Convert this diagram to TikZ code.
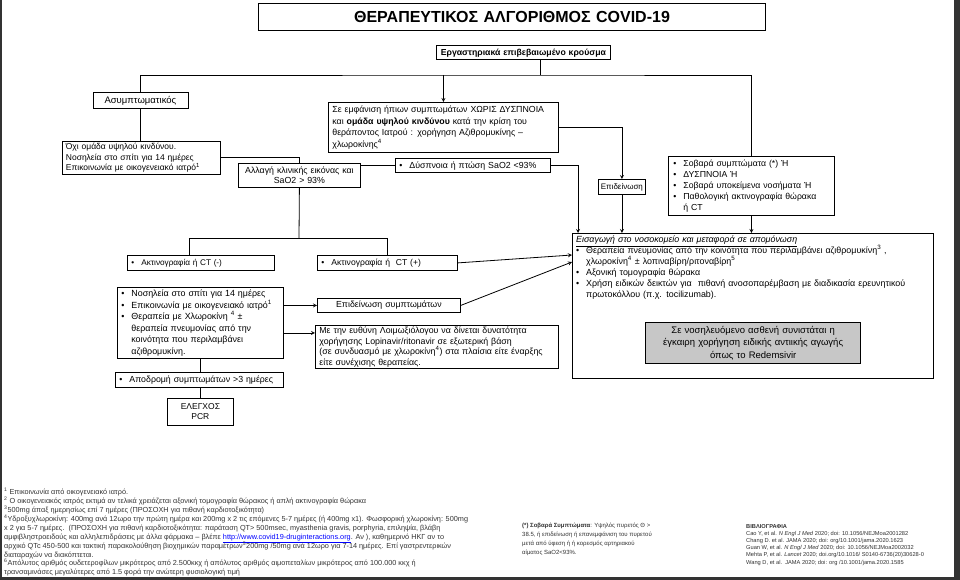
\documentclass[tikz,border=0pt]{standalone}
\usepackage{fontspec}
\setmainfont{Liberation Sans}
\usepackage{xcolor}
\usetikzlibrary{arrows}

\newcommand{\blt}{\makebox[10pt][l]{\textbullet}}
\newcommand{\bltpad}{\hspace*{10pt}}
\newcommand{\flatul}[1]{\raisebox{0pt}[\height][0pt]{\underline{#1}}}
\newcommand{\tightlines}{\lineskiplimit=-10pt\relax}

\begin{document}
\begin{tikzpicture}[x=1pt, y=-1pt,
    box/.style={draw, line width=0.8pt, anchor=north west, inner xsep=4pt, inner ysep=0pt, align=left, font=\fontsize{8.5}{11}\selectfont},
    arrow/.style={->, >=stealth, line width=0.8pt},
    link/.style={line width=0.8pt},
    note/.style={anchor=north west, inner sep=0pt, align=left, text=black!80}
]

\fill[white] (0,0) rectangle (960,580);
\useasboundingbox (0,0) rectangle (960,580);

% frame of the scan
\fill[black!80] (0,0) rectangle (2,580);
\fill[black!80] (954,0) rectangle (960,580);
\fill[black!80] (0,577) rectangle (960,580);

% title and start
\node[box, line width=1pt, align=center, minimum width=507, minimum height=27, text width=499, font=\fontsize{16}{19}\selectfont\bfseries] (title) at (258,3) {ΘΕΡΑΠΕΥΤΙΚΟΣ ΑΛΓΟΡΙΘΜΟΣ COVID-19};
\node[box, align=center, inner xsep=2pt, minimum width=174, minimum height=14, text width=170, font=\fontsize{8.7}{10}\selectfont\bfseries] (lab) at (436,45.5) {Εργαστηριακά επιβεβαιωμένο κρούσμα};

% left branch
\node[box, align=center, minimum width=95, minimum height=16, text width=87, font=\fontsize{9.5}{11}\selectfont] (asym) at (92.5,92) {Ασυμπτωματικός};
\node[box, minimum width=158, minimum height=33, text width=150, font=\fontsize{8.5}{10.3}\selectfont] (ochi) at (61.5,141) {Όχι ομάδα υψηλού κινδύνου.\\Νοσηλεία στο σπίτι για 14 ημέρες\\Επικοινωνία με οικογενειακό ιατρό\textsuperscript{1}};
\node[box, align=center, minimum width=122, minimum height=24, text width=114, font=\fontsize{8.8}{10.5}\selectfont] (alagi) at (238,163) {Αλλαγή κλινικής εικόνας και\\SaO2 > 93\%};
\node[box, minimum width=155, minimum height=14, text width=147, font=\fontsize{8.8}{10}\selectfont] (dysp) at (395,158.5) {\blt Δύσπνοια ή πτώση SaO2 <93\%};

% middle branch
\node[box, minimum width=230, minimum height=50, text width=222, font=\fontsize{8.8}{11.5}\selectfont] (mid) at (328,102) {Σε εμφάνιση ήπιων συμπτωμάτων ΧΩΡΙΣ ΔΥΣΠΝΟΙΑ\\και \textbf{ομάδα υψηλού κινδύνου} κατά την κρίση του\\θεράποντος Ιατρού : χορήγηση Αζιθρομυκίνης –\\χλωροκίνης\textsuperscript{4}};
\node[box, align=center, inner xsep=2pt, minimum width=47, minimum height=15, text width=43, font=\fontsize{8}{10}\selectfont] (epid) at (598,179) {Επιδείνωση};

% right branch
\node[box, inner xsep=5pt, minimum width=166, minimum height=59, text width=156, font=\fontsize{8.7}{11}\selectfont] (sob) at (668,156) {\blt Σοβαρά συμπτώματα (*) Ή\\\blt ΔΥΣΠΝΟΙΑ Ή\\\blt Σοβαρά υποκείμενα νοσήματα Ή\\\blt Παθολογική ακτινογραφία θώρακα\\\bltpad ή CT};

% hospital
\node[box, line width=1pt, minimum width=361, minimum height=145] (big) at (572,233) {};
\node[note, text=black, text width=355, font=\fontsize{8.9}{10.9}\selectfont] (bigtxt) at (576,236) {\flatul{\textit{Εισαγωγή στο νοσοκομείο και μεταφορά σε απομόνωση}}\\\blt Θεραπεία πνευμονίας από την κοινότητα που περιλαμβάνει αζιθρομυκίνη\textsuperscript{3} ,\\\bltpad χλωροκίνη\textsuperscript{4} ± λοπιναβίρη/ριτοναβίρη\textsuperscript{5}\\\blt Αξονική τομογραφία θώρακα\\\blt Χρήση ειδικών δεικτών για\ \ πιθανή ανοσοπαρέμβαση με διαδικασία ερευνητικού\\\bltpad πρωτοκόλλου (π.χ. tocilizumab).};
\node[box, line width=1.3pt, fill=black!22, align=center, minimum width=215, minimum height=41, text width=207, font=\fontsize{9.5}{12.5}\selectfont] (grey) at (645,322) {Σε νοσηλευόμενο ασθενή συνιστάται η\\έγκαιρη χορήγηση ειδικής αντιικής αγωγής\\όπως το Redemsivir};

% x-ray results
\node[box, minimum width=147, minimum height=15, text width=139, font=\fontsize{8.2}{10}\selectfont] (xneg) at (127,255) {\blt Ακτινογραφία ή CT (-)};
\node[box, minimum width=140, minimum height=15, text width=132, font=\fontsize{8.6}{10}\selectfont] (xpos) at (317,255) {\blt Ακτινογραφία ή\ \ CT (+)};
\node[box, minimum width=166, minimum height=71, text width=158, font=\fontsize{8.9}{11.5}\selectfont] (nos) at (117,287) {\blt Νοσηλεία στο σπίτι για 14 ημέρες\\\blt Επικοινωνία με οικογενειακό ιατρό\textsuperscript{1}\\\blt Θεραπεία με Χλωροκίνη \textsuperscript{4} ±\\\bltpad θεραπεία πνευμονίας από την\\\bltpad κοινότητα που περιλαμβάνει\\\bltpad αζιθρομυκίνη.};
\node[box, align=center, minimum width=143, minimum height=14, text width=135, font=\fontsize{8.8}{10}\selectfont] (epsym) at (317,298) {Επιδείνωση συμπτωμάτων};
\node[box, minimum width=243, minimum height=43, text width=235, font=\fontsize{8.8}{10.6}\selectfont] (lopi) at (315,325) {Με την ευθύνη Λοιμωξιόλογου να δίνεται δυνατότητα\\χορήγησης Lopinavir/ritonavir σε εξωτερική βάση\\(σε συνδυασμό με χλωροκίνη\textsuperscript{4}) στα πλαίσια είτε έναρξης\\είτε συνέχισης θεραπείας.};
\node[box, minimum width=168, minimum height=15, text width=160, font=\fontsize{8.8}{10}\selectfont] (apod) at (115,372) {\blt Αποδρομή συμπτωμάτων >3 ημέρες};
\node[box, align=center, minimum width=66, minimum height=27, text width=58, font=\fontsize{8.5}{10}\selectfont] (pcr) at (167,398) {ΕΛΕΓΧΟΣ\\PCR};

% connectors
\coordinate (split) at (540,75);
\coordinate (fork) at (299,238);
\draw[link] (split |- lab.south) -- (split);
\draw[link] (asym.north) |- (split) -| (sob.north);
\draw[arrow] (mid.north |- split) -- (mid.north);
\draw[link] (asym.south) -- (asym.south |- ochi.north);
\draw[link] (ochi.east) -| (alagi.north);
\draw[link] (alagi.east |- dysp.west) -- (dysp.west);
\draw[arrow] (dysp.east) -| ([xshift=6pt]big.north west);
\draw[arrow] (mid.east) -| (epid.north);
\draw[arrow] (epid.south) -- (epid.south |- big.north);
\draw[arrow] (sob.south) -- (sob.south |- big.north);
\draw[link] (alagi.south) -- (fork);
\draw[link] ([xshift=-12pt]xneg.north |- fork) -- (xpos.north |- fork);
\draw[link] ([xshift=-12pt]xneg.north |- fork) -- ([xshift=-12pt]xneg.north);
\draw[link] (xpos.north |- fork) -- (xpos.north);
\draw[arrow] (xpos.east) -- ([yshift=-22pt]big.north west);
\draw[arrow] (nos.east |- epsym.west) -- (epsym.west);
\draw[arrow] (epsym.east) -- ([yshift=-29pt]big.north west);
\draw[arrow] ([yshift=14pt]lopi.west -| nos.east) -- ([yshift=14pt]lopi.west);
\draw[link] (nos.south -| pcr) -- (apod.north -| pcr);
\draw[link] (apod.south -| pcr) -- (pcr.north);

% footnotes
\node[note, font=\fontsize{7.3}{8.9}\selectfont\tightlines] (notes) at (4,488) {\textsuperscript{1} Επικοινωνία από οικογενειακό ιατρό.\\
\textsuperscript{2} Ο οικογενειακός ιατρός εκτιμά αν τελικά χρειάζεται αξονική τομογραφία θώρακος ή απλή ακτινογραφία θώρακα\\
\textsuperscript{3}500mg άπαξ ημερησίως επί 7 ημέρες (ΠΡΟΣΟΧΗ για πιθανή καρδιοτοξικότητα)\\
\textsuperscript{4}Υδροξυχλωροκίνη: 400mg ανά 12ωρο την πρώτη ημέρα και 200mg x 2 τις επόμενες 5-7 ημέρες (ή 400mg x1). Φωσφορική χλωροκίνη: 500mg\\
x 2 για 5-7 ημέρες.\ \ (ΠΡΟΣΟΧΗ για πιθανή καρδιοτοξικότητα: παράταση QT> 500msec, myasthenia gravis, porphyria, επιληψία, βλάβη\\
αμφιβληστροειδούς και αλληλεπιδράσεις με άλλα φάρμακα – βλέπε \textcolor{blue}{\flatul{http://www.covid19-druginteractions.org}}. Αν ), καθημερινό ΗΚΓ αν το\\
αρχικό QTc 450-500 και τακτική παρακολούθηση βιοχημικών παραμέτρων\textsuperscript{5}200mg /50mg ανά 12ωρο για 7-14 ημέρες. Επί γαστρεντερικών\\
διαταραχών να διακόπτεται.\\
\textsuperscript{6}Απόλυτος αριθμός ουδετεροφίλων μικρότερος από 2.500κκχ ή απόλυτος αριθμός αιμοπεταλίων μικρότερος από 100.000 κκχ ή\\
τρανσαμινάσες μεγαλύτερες από 1.5 φορά την ανώτερη φυσιολογική τιμή};
\node[note, font=\fontsize{6}{8.8}\selectfont] (severe) at (522,523) {\textbf{(*) Σοβαρά Συμπτώματα}: Υψηλός πυρετός Θ >\\38.5, ή επιδείνωση ή επανεμφάνιση του πυρετού\\μετά από ύφεση ή ή κορεσμός αρτηριακού\\αίματος SaO2<93\%.};
\node[note, font=\fontsize{5.7}{7.2}\selectfont] (biblio) at (746,524) {\textbf{ΒΙΒΛΙΟΓΡΑΦΙΑ}\\
Cao Y, et al. \textit{N Engl J Med} 2020; doi: 10.1056/NEJMoa2001282\\
Chang D. et al. JAMA 2020; doi: org/10.1001/jama.2020.1623\\
Guan W, et al. \textit{N Engl J Med} 2020; doi: 10.1056/NEJMoa2002032\\
Mehta P, et al. \textit{Lancet} 2020; doi.org/10.1016/ S0140-6736(20)30628-0\\
Wang D, et al.\ \ JAMA 2020; doi: org /10.1001/jama.2020.1585};

\end{tikzpicture}
\end{document}
